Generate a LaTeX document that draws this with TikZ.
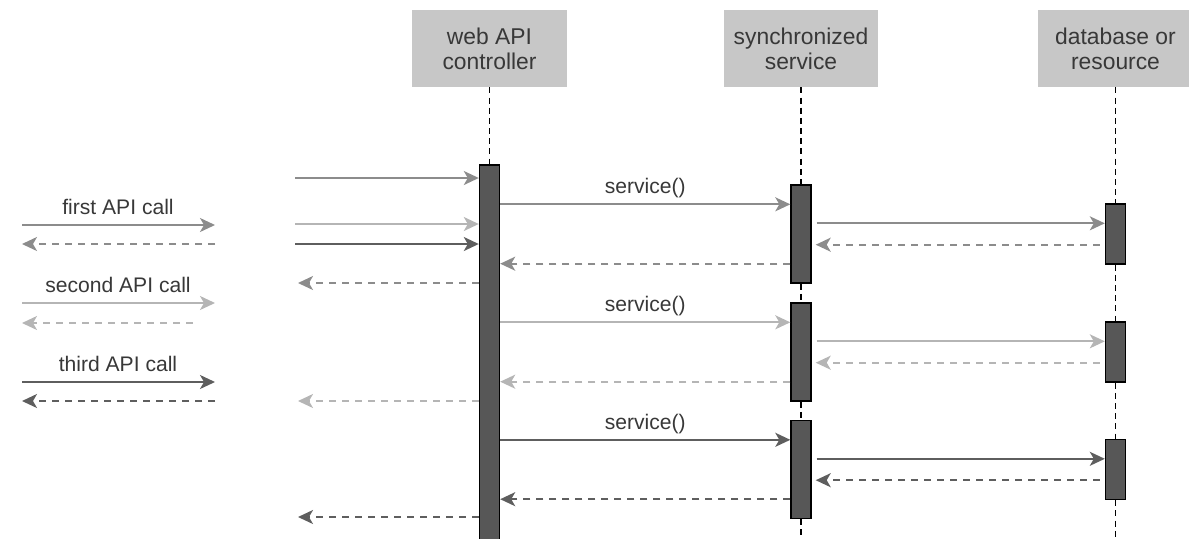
\documentclass[tikz,border=0pt]{standalone}
\usepackage{fontspec}
\setmainfont{Liberation Sans}
\usepackage{tikz}
\usetikzlibrary{arrows.meta,calc}
\definecolor{cfirst}{rgb}{0.55, 0.55, 0.55}
\definecolor{csecond}{rgb}{0.71, 0.71, 0.71}
\definecolor{cthird}{rgb}{0.37, 0.37, 0.37}
\definecolor{headgray}{rgb}{0.78, 0.78, 0.78}
\definecolor{bargray}{rgb}{0.34, 0.34, 0.34}
\definecolor{txtgray}{rgb}{0.22, 0.22, 0.22}

\begin{document}
\begin{tikzpicture}[x=0.02cm,y=-0.02cm,
  head/.style={fill=headgray, text=txtgray, align=center, inner sep=0pt,
    minimum width=3.1cm, minimum height=1.54cm, font=\fontsize{13}{14.3}\selectfont},
  bar/.style={draw=black, fill=bargray, line width=0.8pt, inner sep=0pt, minimum width=0.4cm},
  lifeline/.style={draw=black, line width=1pt, dash pattern=on 3.4pt off 2.4pt},
  msg/.style={line width=1.05pt, -{Stealth[length=0.3cm,width=0.28cm,inset=0.08cm]}},
  ret/.style={msg, dash pattern=on 4pt off 3.4pt},
  lbl/.style={text=txtgray, font=\fontsize{12}{14}\selectfont}]

\useasboundingbox (0,0) rectangle (1189,538);

% lifeline heads
    \node[head] (ctrl) at (489.5,48.5) {web API\\controller};
    \node[head] (svc) at (801,48.5) {synchronized\\service};
    \node[head] (res) at (1115.5,48.5) {database or\\resource};

% activation bars
    \node[bar, minimum height=7.6cm] (cbar) at (489.5,355) {};
  \foreach \i/\y in {1/234,2/352,3/469.5}{
    \node[bar, minimum height=1.96cm] (sbar\i) at (801,\y) {};
    \node[bar, minimum height=1.2cm] (rbar\i) at (1115.5,\y) {};
  }

% lifelines
    \draw[lifeline] (ctrl.south) -- (cbar.north);
    \draw[lifeline] (svc.south) -- (sbar1.north) (sbar1.south) -- (sbar2.north)
      (sbar2.south) -- (sbar3.north) (sbar3.south) -- (svc.south |- 0,538);
    \draw[lifeline] (res.south) -- (rbar1.north) (rbar1.south) -- (rbar2.north)
      (rbar2.south) -- (rbar3.north) (rbar3.south) -- (res.south |- 0,538);

% client side calls
  \foreach \i/\n/\yc/\yr/\xr/\col in {1/first/225/244/215/cfirst,
      2/second/303/323/193/csecond, 3/third/382/401/215/cthird}{
    \coordinate (callw\i) at (22,\yc);
    \coordinate (calle\i) at (215,\yc);
    \coordinate (backe\i) at (\xr,\yr);
    \coordinate (backw\i) at (22,\yr);
    \node[lbl] (lbl\i) at (118,\yc-18) {\n\ API call};
    \draw[msg,\col] (callw\i) -- (calle\i);
    \draw[ret,\col] (backe\i) -- (backw\i);
  }

% requests into the controller
  \foreach \i/\yin/\yout/\col in {1/178/283/cfirst, 2/224/401/csecond, 3/244/517/cthird}{
    \coordinate (in\i) at (295,\yin);
    \coordinate (out\i) at (298,\yout);
    \draw[msg,\col] (in\i) -- (cbar.west |- in\i);
    \draw[ret,\col] (cbar.west |- out\i) -- (out\i);
  }

% service() and resource calls
  \foreach \i/\col in {1/cfirst, 2/csecond, 3/cthird}{
    \coordinate (scall\i) at ($(sbar\i.north west)+(0,20)$);
    \coordinate (sret\i) at ($(sbar\i.south west)+(0,-20)$);
    \coordinate (rcall\i) at ($(rbar\i.north west)+(0,20)$);
    \coordinate (rret\i) at ($(rbar\i.south west)+(0,-20)$);
    \draw[msg,\col] (cbar.east |- scall\i) -- (scall\i)
      node[lbl, midway, above, inner sep=3pt] {service()};
    \draw[ret,\col] (sret\i) -- (cbar.east |- sret\i);
    \draw[msg,\col] ([xshift=0.1cm]sbar\i.east |- rcall\i) -- (rcall\i);
    \draw[ret,\col] ([xshift=-0.1cm]rret\i) -- ([xshift=0.08cm]sbar\i.east |- rret\i);
  }
\end{tikzpicture}
\end{document}
